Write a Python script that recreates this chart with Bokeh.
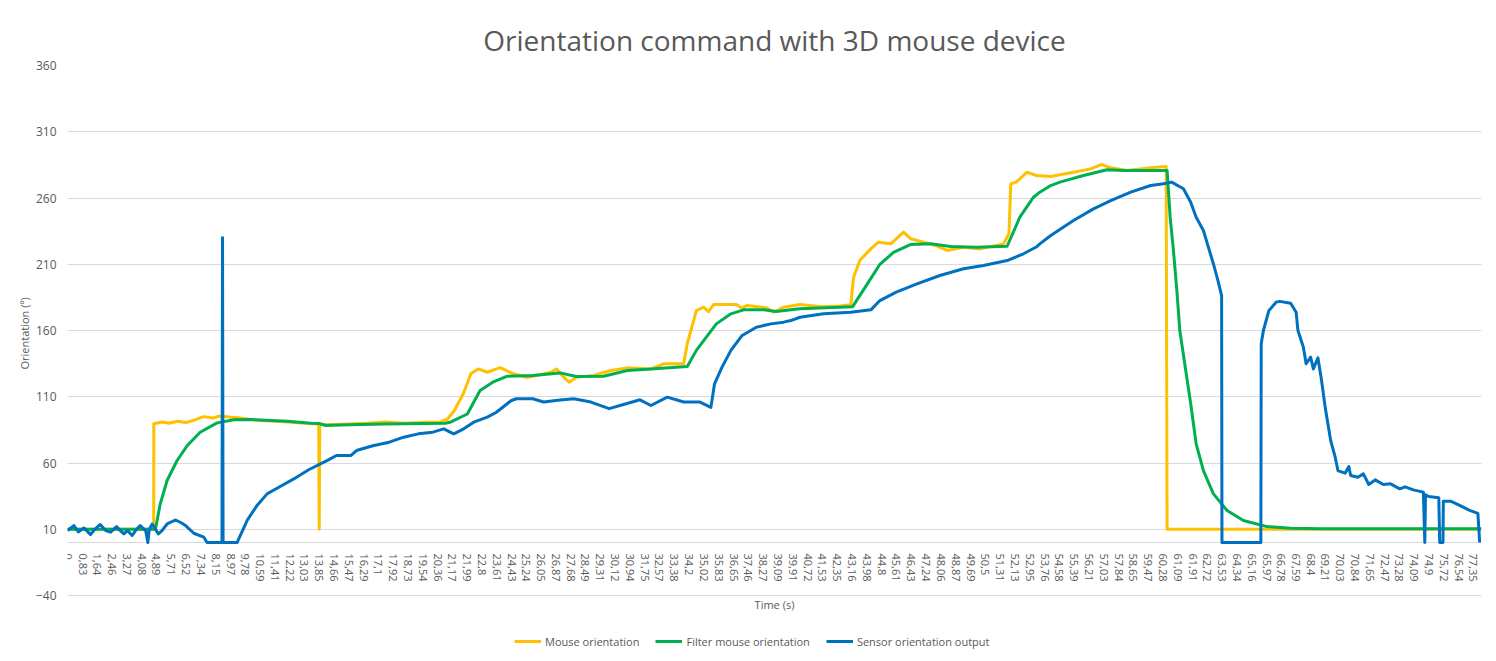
from bokeh.plotting import figure
from bokeh.models import FixedTicker, CustomJSTickFormatter, Range1d, Legend, Span, Title
from bokeh.embed import file_html
from bokeh.resources import INLINE

# ---------------- data ----------------
mouse_t = [0, 4.74, 4.75, 5.2, 5.6, 6.03, 6.5, 7.0, 7.5, 8.0, 8.4, 9.0, 9.5, 10.0, 10.6, 11.5, 12.3, 13.4,
           13.82, 13.85, 13.88, 14.5, 15.5, 16.5, 17.5, 18.5, 19.5, 20.5, 20.9, 21.3, 21.8, 22.2, 22.6, 23.1,
           23.8, 24.5, 25.3, 26.0, 26.6, 26.9, 27.3, 27.6, 28.0, 28.95, 29.9, 30.8, 32.1, 32.8, 33.9, 34.1,
           34.45, 34.6, 35.0, 35.27, 35.55, 36.8, 37.1, 37.4, 38.5, 38.85, 39.4, 40.3, 41.5, 42.5, 43.1, 43.25,
           43.6, 44.2, 44.6, 45.3, 46.0, 46.4, 47.1, 47.8, 48.4, 49.3, 50.2, 51.5, 51.8, 51.9, 52.2, 52.8,
           53.3, 54.1, 55.35, 56.3, 56.9, 57.4, 58.3, 59.6, 60.45, 60.5, 77.8]
mouse_v = [10, 10, 89.6, 91, 90, 91.5, 90.5, 92.5, 95, 94, 95.5, 94.5, 94, 93, 92, 91.5, 90.8, 89.6,
           89.5, 10, 89, 89, 89.5, 90, 91, 90, 90.5, 91, 93, 100, 113, 127.5, 131, 128.5,
           132, 127.5, 124.5, 126.6, 128.5, 131, 124.8, 121, 124.8, 126, 129.8, 131.8, 131, 134.9, 134.9, 150,
           167.5, 175, 177.6, 174.3, 179.6, 179.6, 177, 178.9, 177, 173.8, 177.6, 179.6, 178, 178.5, 179.4, 200,
           213, 221.6, 226.6, 225.4, 234.2, 229.2, 226.6, 224, 220.4, 222.9, 221.6, 225.4, 233, 270.7, 272, 279.5,
           277, 276.2, 279.5, 282, 285.3, 282.8, 280.8, 282.8, 283.8, 10, 10]

filter_t = [0, 4.84, 5.1, 5.48, 6.03, 6.58, 7.3, 8.23, 9.15, 10.07, 12.1, 13.4, 13.85, 14.2, 15.5, 17.5, 20.8,
            21.1, 22.0, 22.7, 23.4, 24.2, 25.6, 27.1, 28.0, 29.5, 30.8, 32.1, 34.1, 34.6, 35.2, 35.7, 36.5,
            37.2, 38.3, 39.0, 39.8, 40.3, 43.2, 44.0, 44.7, 45.45, 46.4, 47.5, 48.6, 50.0, 51.7, 52.4, 53.15,
            53.5, 54.1, 54.6, 55.9, 57.2, 58.1, 60.5, 60.67, 60.85, 61.04, 61.2, 61.5, 61.8, 62.1, 62.5, 63.05,
            63.8, 64.7, 66.0, 67.3, 69.0, 77.8]
filter_v = [10, 10, 29, 46.8, 61.9, 73, 83.2, 90.3, 92.6, 92.8, 91.6, 90, 89.8, 88.3, 88.8, 89.5, 90,
            91, 97, 114.7, 121, 125.5, 126, 128, 125.3, 125.5, 129.8, 131, 132.8, 145, 156, 165, 172.6,
            175.6, 175.6, 174.3, 175.6, 176.4, 178, 195, 210, 219, 225, 225.4, 223.4, 222.9, 223.6, 245.5, 260.6,
            264.4, 269.4, 272, 277, 281.3, 280.8, 280.8, 245.5, 220.4, 190, 160, 132.3, 104.7, 74.5, 54.3, 36.7,
            24.2, 16.6, 12, 10.8, 10.3, 10.3]

sensor_t = [0, 0.35, 0.6, 0.9, 1.27, 1.5, 1.8, 2.1, 2.37, 2.7, 2.9, 3.1, 3.3, 3.56, 3.8, 4.0, 4.3, 4.42, 4.5,
            4.66, 5.0, 5.2, 5.48, 5.94, 6.2, 6.5, 6.95, 7.5, 7.68, 8.5, 8.53, 8.56, 9.33, 9.88, 10.43, 10.98,
            11.7, 12.45, 13.27, 14.3, 14.8, 15.6, 15.9, 16.8, 17.7, 18.5, 19.3, 20.1, 20.7, 21.25, 21.8, 22.35,
            23.1, 23.6, 24.4, 24.7, 25.6, 26.2, 27.1, 27.85, 28.8, 29.8, 30.4, 31.5, 32.1, 33.0, 33.9, 34.8,
            35.4, 35.6, 36.0, 36.5, 37.1, 37.9, 38.7, 39.4, 39.8, 40.3, 41.6, 43.1, 44.2, 44.7, 45.6, 46.7,
            48.0, 49.3, 50.4, 51.7, 52.6, 53.3, 53.5, 54.1, 55.35, 56.45, 57.4, 58.5, 59.6, 60.3, 60.75, 61.4,
            61.8, 62.1, 62.5, 62.8, 63.05, 63.3, 63.5, 63.52, 65.66, 65.68, 65.8, 66.1, 66.5, 66.7, 67.3, 67.6,
            67.7, 68.0, 68.15, 68.4, 68.55, 68.8, 69.0, 69.2, 69.5, 69.75, 69.9, 70.3, 70.5, 70.6, 71.0, 71.3,
            71.6, 71.95, 72.4, 72.8, 73.3, 73.6, 74.05, 74.6, 74.68, 74.72, 74.9, 75.45, 75.5, 75.68, 75.7,
            76.1, 76.6, 77.15, 77.6, 77.7]
sensor_v = [9, 12.8, 8, 11, 6, 10, 13.6, 9, 7.8, 12, 9, 6.5, 9, 5.3, 10, 12.8, 9, 0, 10,
            14, 6.5, 9, 14, 17, 15.3, 12.8, 7, 4, 0, 0, 230, 0, 0, 16.6, 28, 36.7,
            42.3, 48, 54.9, 62, 65.7, 65.7, 69.4, 73, 75.7, 79.5, 82, 83.3, 85.8, 82, 85.8, 90.8,
            94.6, 98.3, 107, 108.5, 108.5, 106, 107.5, 108.5, 106, 101, 103.4, 107.7, 103.4, 109.7, 106, 106,
            102, 119.8, 132, 145, 156, 162.5, 165, 166.3, 167.5, 170, 172.6, 173.8, 175.6, 182.6, 189, 195,
            201.5, 206.6, 209, 212.8, 217.9, 223, 225.4, 231.7, 243, 251.8, 258, 264.4, 269.4, 270.7, 272, 267,
            256.8, 245.5, 235.5, 221.6, 210.3, 197.7, 186.4, 0, 0, 150, 160, 175, 181.4, 182, 180.6, 173.8,
            160, 147.4, 134.9, 139.9, 131, 139.4, 122.3, 102, 77, 64.4, 54.3, 52.3, 57.4, 50.6, 49.3, 51.8,
            43.8, 47.3, 43.8, 44.3, 40.5, 42, 39.7, 38, 0, 36, 34.7, 33.7, 0, 0, 31.2,
            31.2, 28, 24.2, 22, 0]

x_tick_values = [0, 0.83, 1.64, 2.46, 3.27, 4.08, 4.89, 5.71, 6.52, 7.34, 8.15, 8.97, 9.78, 10.59, 11.41,
                 12.22, 13.03, 13.85, 14.66, 15.47, 16.29, 17.1, 17.92, 18.73, 19.54, 20.36, 21.17, 21.99,
                 22.8, 23.61, 24.43, 25.24, 26.05, 26.87, 27.68, 28.49, 29.31, 30.12, 30.94, 31.75, 32.57,
                 33.38, 34.2, 35.02, 35.83, 36.65, 37.46, 38.27, 39.09, 39.91, 40.72, 41.53, 42.35, 43.16,
                 43.98, 44.8, 45.61, 46.43, 47.24, 48.06, 48.87, 49.69, 50.5, 51.31, 52.13, 52.95, 53.76,
                 54.58, 55.39, 56.21, 57.03, 57.84, 58.65, 59.47, 60.28, 61.09, 61.91, 62.72, 63.53, 64.34,
                 65.16, 65.97, 66.78, 67.59, 68.4, 69.21, 70.03, 70.84, 71.65, 72.47, 73.28, 74.09, 74.9,
                 75.72, 76.54, 77.35]
y_tick_values = [-40, 10, 60, 110, 160, 210, 260, 310, 360]

series_names = ["Mouse orientation", "Filter mouse orientation", "Sensor orientation output"]
series_colors = ["#FFC000", "#00B050", "#0070C0"]

# ---------------- figure ----------------
FONT = "Open Sans"
GREY = "#595959"

# frame runs from the 360 gridline down to the bottom of the page, so the
# axis title and legend below the -40 gridline are drawn inside it
p = figure(width=1496, height=661, output_backend="svg", toolbar_location=None,
           x_range=Range1d(0, 77.8), y_range=Range1d(-89.8, 360),
           min_border_left=67, min_border_right=15, min_border_top=65, min_border_bottom=0)
p.outline_line_color = None
p.background_fill_color = "white"
p.border_fill_color = "white"

p.title.text = "Orientation command with 3D mouse device"
p.title.align = "center"
p.title.text_font = FONT
p.title.text_font_size = "28px"
p.title.text_font_style = "normal"
p.title.text_color = GREY
p.title.standoff = 14

p.add_layout(Span(location=0, dimension="width", line_color="#d9d9d9", line_width=1, level="underlay"))

renderers = []
for t, v, name, col in zip([mouse_t, filter_t, sensor_t], [mouse_v, filter_v, sensor_v],
                           series_names, series_colors):
    r = p.line(t, v, line_color=col, line_width=3, line_join="round")
    renderers.append((name, [r]))

legend = Legend(items=renderers, orientation="horizontal", location=(447, 12))
legend.label_text_font = FONT
legend.label_text_font_size = "11px"
legend.label_text_color = GREY
legend.border_line_color = None
legend.background_fill_alpha = 0
legend.glyph_width = 27
legend.glyph_height = 16
legend.label_standoff = 4
legend.spacing = 16
legend.padding = 0
legend.margin = 0
p.add_layout(legend, "center")

# x axis drawn at value 0
xa = p.xaxis[0]
xa.fixed_location = 0
xa.ticker = FixedTicker(ticks=x_tick_values)
xa.formatter = CustomJSTickFormatter(code="return tick.toString().replace('.', ',');")
xa.major_label_orientation = "vertical"
xa.major_label_text_font = FONT
xa.major_label_text_font_size = "11px"
xa.major_label_text_color = GREY
xa.major_label_standoff = 5
xa.axis_line_color = None
xa.major_tick_line_color = None
xa.minor_tick_line_color = None
xa.axis_label = "Time (s)"
xa.axis_label_text_font = FONT
xa.axis_label_text_font_size = "11px"
xa.axis_label_text_font_style = "normal"
xa.axis_label_text_color = GREY
xa.axis_label_standoff = 12

ya = p.yaxis[0]
ya.ticker = FixedTicker(ticks=y_tick_values)
ya.major_label_text_font = FONT
ya.major_label_text_font_size = "12px"
ya.major_label_text_color = GREY
ya.major_label_standoff = 5
ya.axis_line_color = None
ya.major_tick_line_color = None
ya.minor_tick_line_color = None

ytitle = Title(text="Orientation (º)", align="left", offset=292, standoff=1,
               text_font=FONT, text_font_size="11px", text_font_style="normal", text_color=GREY)
p.add_layout(ytitle, "left")

p.xgrid.grid_line_color = None
p.ygrid.grid_line_color = "#d9d9d9"
p.ygrid.grid_line_width = 1
p.ygrid.ticker = FixedTicker(ticks=y_tick_values)

open("out.html", "w").write(file_html(p, INLINE))
